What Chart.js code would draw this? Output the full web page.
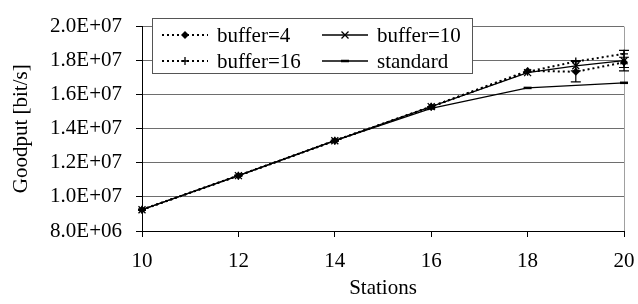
<!DOCTYPE html>
<html>
<head>
<meta charset="utf-8">
<script src="https://cdn.jsdelivr.net/npm/chart.js@4/dist/chart.umd.min.js"></script>
<style>
  html, body { margin: 0; padding: 0; background: #fff; }
  #wrap { width: 638px; height: 304px; }
</style>
</head>
<body>
<div id="wrap"><canvas id="chartGoodput" width="638" height="304"></canvas></div>
<script>
// Goodput vs. number of stations
const stations = [10, 12, 14, 16, 18, 19, 20];
const buffer4  = [9.25e6, 11.25e6, 13.3e6, 15.3e6, 17.4e6, 17.35e6, 17.9e6];
const buffer10 = [9.25e6, 11.25e6, 13.3e6, 15.3e6, 17.3e6, 17.7e6, 18.0e6];
const buffer16 = [9.25e6, 11.25e6, 13.3e6, 15.3e6, 17.35e6, 17.95e6, 18.4e6];
const standard = [9.25e6, 11.25e6, 13.3e6, 15.2e6, 16.4e6, null, 16.7e6];
// half-width of the error bars
const err4  = [0, 0, 0, 0, 0, 0.6e6, 0.3e6];
const err10 = [0, 0, 0, 0, 0, 0.3e6, 0.6e6];

const yTicks = [8e6, 1e7, 1.2e7, 1.4e7, 1.6e7, 1.8e7, 2e7];
const FONT = 'Liberation Serif';

function sci(v) {
    const e = Math.floor(Math.log10(v) + 1e-9);
    const m = (v / Math.pow(10, e)).toFixed(1);
    return m + 'E+' + String(e).padStart(2, '0');
}

function pts(arr) {
    return stations.map((s, i) => ({ x: s, y: arr[i] }));
}

// markers drawn by hand so the legend can reuse them
function marker(ctx, kind, x, y) {
    ctx.save();
    ctx.fillStyle = '#000';
    ctx.strokeStyle = '#000';
    ctx.lineWidth = 1.3;
    ctx.setLineDash([]);
    ctx.beginPath();
    if (kind === 'diamond') {
        ctx.moveTo(x, y - 4); ctx.lineTo(x + 4, y); ctx.lineTo(x, y + 4); ctx.lineTo(x - 4, y);
        ctx.closePath(); ctx.fill();
    } else if (kind === 'x') {
        ctx.moveTo(x - 3.5, y - 3.5); ctx.lineTo(x + 3.5, y + 3.5);
        ctx.moveTo(x + 3.5, y - 3.5); ctx.lineTo(x - 3.5, y + 3.5); ctx.stroke();
    } else if (kind === 'plus') {
        ctx.moveTo(x - 4, y); ctx.lineTo(x + 4, y);
        ctx.moveTo(x, y - 4); ctx.lineTo(x, y + 4); ctx.stroke();
    } else if (kind === 'dash') {
        ctx.lineWidth = 2.5;
        ctx.moveTo(x - 4, y); ctx.lineTo(x + 4, y); ctx.stroke();
    }
    ctx.restore();
}

const errorBars = {
    id: 'errorBars',
    afterDatasetsDraw(chart) {
        const ctx = chart.ctx;
        const xs = chart.scales.x, ys = chart.scales.y;
        chart.data.datasets.forEach(ds => {
            if (!ds.errors) return;
            ds.data.forEach((p, i) => {
                const e = ds.errors[i];
                if (!e || p.y == null) return;
                const px = xs.getPixelForValue(p.x);
                const top = ys.getPixelForValue(p.y + e);
                const bot = ys.getPixelForValue(p.y - e);
                ctx.save();
                ctx.strokeStyle = '#000';
                ctx.lineWidth = 1.2;
                ctx.beginPath();
                ctx.moveTo(px, top); ctx.lineTo(px, bot);
                ctx.moveTo(px - 5, top); ctx.lineTo(px + 5, top);
                ctx.moveTo(px - 5, bot); ctx.lineTo(px + 5, bot);
                ctx.stroke();
                ctx.restore();
            });
        });
    }
};

const markers = {
    id: 'markers',
    afterDatasetsDraw(chart) {
        const xs = chart.scales.x, ys = chart.scales.y;
        chart.data.datasets.forEach(ds => {
            ds.data.forEach(p => {
                if (p.y == null) return;
                marker(chart.ctx, ds.mark, xs.getPixelForValue(p.x), ys.getPixelForValue(p.y));
            });
        });
    }
};

const frame = {
    id: 'frame',
    beforeDatasetsDraw(chart) {
        const { ctx, chartArea: a } = chart;
        ctx.save();
        ctx.strokeStyle = '#a0a0a0';
        ctx.lineWidth = 1;
        ctx.beginPath();
        ctx.moveTo(a.right + 0.5, a.top);
        ctx.lineTo(a.right + 0.5, a.bottom);
        ctx.stroke();
        ctx.restore();
    }
};

const boxLegend = {
    id: 'boxLegend',
    afterDraw(chart) {
        const ctx = chart.ctx;
        ctx.save();
        ctx.fillStyle = '#fff';
        ctx.fillRect(152, 18, 320, 55);
        ctx.strokeStyle = '#555';
        ctx.lineWidth = 1;
        ctx.strokeRect(152.5, 18.5, 320, 55);
        const cells = [
            { ds: 0, x: 162, y: 35 }, { ds: 1, x: 322, y: 35 },
            { ds: 2, x: 162, y: 61 }, { ds: 3, x: 322, y: 61 }
        ];
        ctx.font = '21px "' + FONT + '"';
        ctx.textBaseline = 'middle';
        cells.forEach(c => {
            const ds = chart.data.datasets[c.ds];
            ctx.strokeStyle = '#000';
            ctx.lineWidth = ds.borderWidth;
            ctx.setLineDash(ds.borderDash || []);
            ctx.beginPath();
            ctx.moveTo(c.x, c.y); ctx.lineTo(c.x + 46, c.y);
            ctx.stroke();
            ctx.setLineDash([]);
            marker(ctx, ds.mark, c.x + 23, c.y);
            ctx.fillStyle = '#000';
            ctx.fillText(ds.label, c.x + 55, c.y + 1);
        });
        ctx.restore();
    }
};

new Chart(document.getElementById('chartGoodput').getContext('2d'), {
    type: 'line',
    data: {
        datasets: [
            { label: 'buffer=4', data: pts(buffer4), errors: err4, mark: 'diamond',
              borderColor: '#000', borderWidth: 2, borderDash: [2, 3] },
            { label: 'buffer=10', data: pts(buffer10), errors: err10, mark: 'x',
              borderColor: '#000', borderWidth: 1.3 },
            { label: 'buffer=16', data: pts(buffer16), mark: 'plus',
              borderColor: '#000', borderWidth: 2, borderDash: [2, 3] },
            { label: 'standard', data: pts(standard), mark: 'dash',
              borderColor: '#000', borderWidth: 1.3 }
        ]
    },
    options: {
        responsive: false,
        animation: false,
        spanGaps: true,
        elements: { point: { radius: 0 }, line: { tension: 0 } },
        layout: { padding: { top: 17, right: 14, left: 0, bottom: 0 } },
        plugins: { legend: { display: false }, tooltip: { enabled: false } },
        scales: {
            x: {
                type: 'linear',
                min: 10, max: 20,
                afterFit(s) { s.height = 73; s.paddingRight = 0; s.paddingLeft = 0; },
                ticks: { stepSize: 2, color: '#000', padding: 12, maxRotation: 0, minRotation: 0,
                         font: { family: FONT, size: 21 } },
                grid: { drawOnChartArea: false, tickLength: 6, color: '#000' },
                border: { color: '#000', width: 1 },
                title: { display: true, text: 'Stations', color: '#000',
                         font: { family: FONT, size: 21 }, padding: { top: 0, bottom: 3 } }
            },
            y: {
                min: 8e6, max: 2e7,
                afterFit(s) { s.width = 142; },
                afterBuildTicks(s) { s.ticks = yTicks.map(v => ({ value: v })); },
                ticks: { color: '#000', padding: 14, callback: v => sci(v),
                         font: { family: FONT, size: 21 } },
                grid: { color: '#6e6e6e', tickColor: '#000', tickLength: 6, lineWidth: 1 },
                border: { color: '#000', width: 1 },
                title: { display: true, text: 'Goodput [bit/s]', color: '#000',
                         font: { family: FONT, size: 21 }, padding: { top: 9, bottom: 4 } }
            }
        }
    },
    plugins: [frame, errorBars, markers, boxLegend]
});
</script>
</body>
</html>
